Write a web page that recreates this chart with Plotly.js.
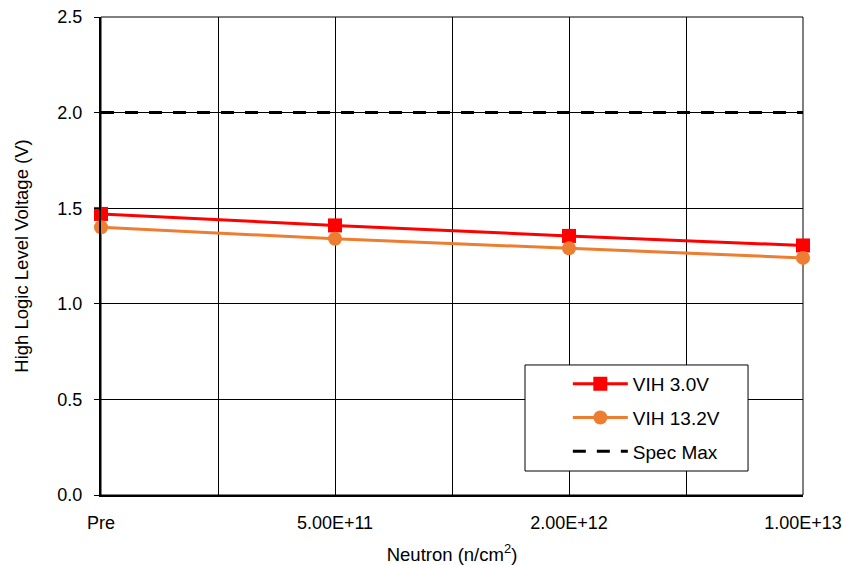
<!DOCTYPE html>
<html>
<head>
<meta charset="utf-8">
<script src="https://cdn.plot.ly/plotly-3.0.1.min.js"></script>
<style>html,body{margin:0;padding:0;background:#fff;}#chart{width:845px;height:565px;}</style>
</head>
<body>
<div id="chart"></div>
<script>
const categories = ["Pre", "5.00E+11", "2.00E+12", "1.00E+13"];
const vih30 = [1.47, 1.41, 1.355, 1.305];
const vih132 = [1.40, 1.34, 1.29, 1.24];
const specMax = [2.0, 2.0, 2.0, 2.0];

const xIdx = categories.map((c, i) => i);
const tickVals = [];
const tickText = [];
for (let i = 0; i < categories.length; i++) {
  tickVals.push(i); tickText.push(categories[i]);
  if (i < categories.length - 1) { tickVals.push(i + 0.5); tickText.push(""); }
}

const font = {family: "Liberation Sans, Arial, sans-serif", color: "#000"};
const f = s => Object.assign({size: s}, font);

const traces = [
  {x: xIdx, y: vih30, name: "VIH 3.0V", mode: "lines+markers", legendgroup: "a", cliponaxis: false,
   line: {color: "#FF0000", width: 3}, marker: {symbol: "square", size: 14, color: "#FF0000"}},
  {x: xIdx, y: vih132, name: "VIH 13.2V", mode: "lines+markers", legendgroup: "b", cliponaxis: false,
   line: {color: "#ED7D31", width: 3}, marker: {symbol: "circle", size: 14, color: "#ED7D31"}},
  {x: xIdx, y: specMax, name: "Spec Max", mode: "lines", legendgroup: "c",
   line: {color: "#000000", width: 3, dash: "13px,11px"}}
];

const layout = {
  width: 845, height: 565,
  margin: {l: 101, r: 42, t: 17, b: 70},
  paper_bgcolor: "#fff", plot_bgcolor: "#fff",
  font: f(18),
  showlegend: true,
  legend: {
    x: 0.665, y: 0.272, xanchor: "left", yanchor: "top",
    borderwidth: 0, bgcolor: "rgba(0,0,0,0)",
    font: f(19), itemwidth: 55,
    tracegroupgap: 6, traceorder: "grouped"
  },
  xaxis: {
    range: [0, categories.length - 1],
    tickmode: "array", tickvals: tickVals, ticktext: tickText,
    showgrid: true, gridcolor: "#000", gridwidth: 1,
    showline: true, linecolor: "#000", linewidth: 2,
    ticks: "", ticklabelstandoff: 10, tickfont: f(18),
    zeroline: false, automargin: false,
    title: {text: "Neutron (n/cm<sup>2</sup>)", font: f(18.5), standoff: 16}
  },
  yaxis: {
    range: [0, 2.5], dtick: 0.5, tick0: 0, tickformat: ".1f",
    showgrid: true, gridcolor: "#000", gridwidth: 1,
    showline: true, linecolor: "#000", linewidth: 2,
    ticks: "outside", ticklen: 5, tickcolor: "#000", ticklabelstandoff: 8,
    tickfont: f(18),
    zeroline: false, automargin: false,
    title: {text: "High Logic Level Voltage (V)", font: f(18.5), standoff: 24}
  },
  shapes: [
    {type: "rect", xref: "paper", yref: "paper", x0: 0, x1: 1, y0: 0, y1: 1,
     line: {color: "#000", width: 1}, fillcolor: "rgba(0,0,0,0)", layer: "below"},
    {type: "rect", xref: "paper", yref: "paper", x0: 0.604, x1: 0.9217, y0: 0.0502, y1: 0.272,
     line: {color: "#000", width: 1}, fillcolor: "#fff", layer: "above"}
  ]
};

Plotly.newPlot("chart", traces, layout, {displayModeBar: false, staticPlot: true});
</script>
</body>
</html>
